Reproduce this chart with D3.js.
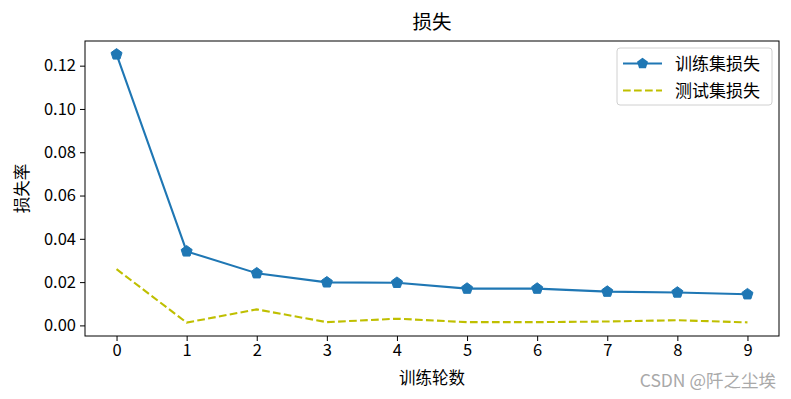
<!DOCTYPE html>
<html><head><meta charset="utf-8">
<script src="https://cdn.jsdelivr.net/npm/d3@7/dist/d3.min.js"></script>
<style>
html,body{margin:0;padding:0;background:#fff;}
svg{display:block;font-family:"Noto Sans CJK SC","DejaVu Sans",sans-serif;}
</style></head>
<body><svg id="chart" width="791" height="399"></svg>
<script>
const epochs = [0,1,2,3,4,5,6,7,8,9];
const trainLoss = [0.1252,0.0342,0.0241,0.0199,0.0197,0.0170,0.0170,0.0156,0.0152,0.0144];
const testLoss  = [0.0260,0.0013,0.0074,0.0015,0.0031,0.0015,0.0015,0.0018,0.0024,0.0014];
const yTicks = [0.00,0.02,0.04,0.06,0.08,0.10,0.12];
const title = "损失";
const xLabel = "训练轮数";
const yLabel = "损失率";
const seriesNames = ["训练集损失","测试集损失"];
const watermark = "CSDN @阡之尘埃";

const svg = d3.select("#chart");
const L = 85, R = 779, T = 41, B = 336;
const xMin = d3.min(epochs), xMax = d3.max(epochs);
const xPad = (xMax - xMin) * 0.05;
const x = d3.scaleLinear().domain([xMin - xPad, xMax + xPad]).range([L, R]);
const all = trainLoss.concat(testLoss);
const yLo = d3.min(all), yHi = d3.max(all), yPad = (yHi - yLo) * 0.05;
const y = d3.scaleLinear().domain([yLo - yPad, yHi + yPad]).range([B, T]);

const fs = 16.5;
// axes
const xAxis = d3.axisBottom(x).tickValues(epochs).tickFormat(d3.format("d")).tickSizeOuter(0).tickSize(5).tickPadding(3);
const yAxis = d3.axisLeft(y).tickValues(yTicks).tickFormat(d3.format(".2f")).tickSizeOuter(0).tickSize(5).tickPadding(4);
const gx = svg.append("g").attr("transform", `translate(0,${B})`).call(xAxis);
const gy = svg.append("g").attr("transform", `translate(${L},0)`).call(yAxis);
[gx, gy].forEach(g => {
  g.select(".domain").remove();
  g.selectAll(".tick line").attr("stroke", "#000").attr("stroke-width", 1);
  g.selectAll(".tick text").attr("fill", "#000").attr("font-size", fs)
    .attr("font-family", '"Noto Sans CJK SC","DejaVu Sans",sans-serif');
});

// lines
const lineGen = d3.line().x((d, i) => x(epochs[i])).y(d => y(d));
svg.append("path").datum(testLoss).attr("d", lineGen)
  .attr("fill", "none").attr("stroke", "#bfbf00").attr("stroke-width", 2.1)
  .attr("stroke-dasharray", "7.7,3.3");
svg.append("path").datum(trainLoss).attr("d", lineGen)
  .attr("fill", "none").attr("stroke", "#1f77b4").attr("stroke-width", 2.1);

function pentagon(r) {
  const pts = d3.range(5).map(k => {
    const a = -Math.PI / 2 + k * 2 * Math.PI / 5;
    return [r * Math.cos(a), r * Math.sin(a)];
  });
  return "M" + pts.map(p => p.join(",")).join("L") + "Z";
}
svg.append("g").selectAll("path").data(trainLoss).join("path")
  .attr("d", pentagon(5.8))
  .attr("transform", (d, i) => `translate(${x(epochs[i])},${y(d)})`)
  .attr("fill", "#1f77b4").attr("stroke", "#1f77b4").attr("stroke-width", 1);

// frame
svg.append("rect").attr("x", L).attr("y", T).attr("width", R - L).attr("height", B - T)
  .attr("fill", "none").attr("stroke", "#000").attr("stroke-width", 1);

// title & labels
svg.append("text").attr("x", (L + R) / 2).attr("y", 29).attr("text-anchor", "middle")
  .attr("font-size", 19.5).attr("fill", "#000").text(title);
svg.append("text").attr("x", (L + R) / 2).attr("y", 384).attr("text-anchor", "middle")
  .attr("font-size", fs).attr("fill", "#000").text(xLabel);
svg.append("text").attr("transform", `translate(28,${(T + B) / 2}) rotate(-90)`)
  .attr("text-anchor", "middle").attr("font-size", fs).attr("fill", "#000").text(yLabel);

// legend
const lg = svg.append("g");
lg.append("rect").attr("x", 617).attr("y", 48).attr("width", 155).attr("height", 57)
  .attr("rx", 3).attr("fill", "#fff").attr("fill-opacity", 0.8).attr("stroke", "#d0d0d0");
const ly = [63.5, 90.5];
lg.append("line").attr("x1", 623).attr("x2", 662).attr("y1", ly[0]).attr("y2", ly[0])
  .attr("stroke", "#1f77b4").attr("stroke-width", 2.1);
lg.append("path").attr("d", pentagon(5.8)).attr("transform", `translate(642.5,${ly[0]})`)
  .attr("fill", "#1f77b4");
lg.append("line").attr("x1", 623).attr("x2", 662).attr("y1", ly[1]).attr("y2", ly[1])
  .attr("stroke", "#bfbf00").attr("stroke-width", 2.1).attr("stroke-dasharray", "7.7,3.3");
seriesNames.forEach((s, i) => {
  lg.append("text").attr("x", 675).attr("y", ly[i]).attr("dy", "0.36em")
    .attr("font-size", 17).attr("fill", "#000").text(s);
});

// watermark
svg.append("text").attr("x", 776).attr("y", 381).attr("dy", "0.36em").attr("text-anchor", "end")
  .attr("font-size", 17.5).attr("fill", "#a9a9a9").text(watermark);
</script></body></html>
